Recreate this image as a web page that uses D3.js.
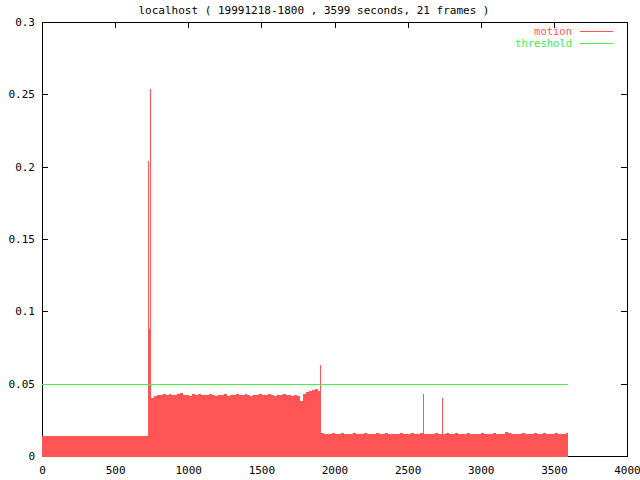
<!DOCTYPE html>
<head>
<meta charset="utf-8">
<style>
body { margin: 0; background: #fff; }
text { font-family: "DejaVu Sans Mono", monospace; font-size: 11px; }
.tick line { stroke: #000; }
</style>
</head>
<body>
<script src="https://d3js.org/d3.v7.min.js"></script>
<script>

// chart text
var title = "localhost ( 19991218-1800 , 3599 seconds, 21 frames )";
var seriesNames = ["motion", "threshold"];

// tick labels
var xTicks = [0, 500, 1000, 1500, 2000, 2500, 3000, 3500, 4000];
var yTicks = [0, 0.05, 0.1, 0.15, 0.2, 0.25, 0.3];

// motion level, one value per 20 s slice (slice k ends at 5 + 20k s)
var motion = [
  0.0135,0.0137,0.0136,0.0138,0.0136,0.0137,0.0139,0.0136,0.0137,0.0135,
  0.0138,0.0137,0.0136,0.0139,0.0137,0.0136,0.0138,0.0135,0.0137,0.0136,
  0.0138,0.0137,0.0139,0.0136,0.0137,0.0135,0.0138,0.0136,0.0137,0.0139,
  0.0136,0.0138,0.0137,0.0136,0.0138,0.0137,0.0136,
  0.0395,0.0402,0.0418,0.0425,0.0420,0.0428,0.0422,0.0431,0.0424,0.0419,
  0.0426,0.0433,0.0421,0.0425,0.0418,0.0427,0.0423,0.0430,0.0420,0.0424,
  0.0419,0.0428,0.0422,0.0417,0.0425,0.0421,0.0429,0.0418,0.0423,0.0420,
  0.0426,0.0419,0.0424,0.0432,0.0421,0.0418,0.0425,0.0420,0.0427,0.0422,
  0.0419,0.0426,0.0421,0.0417,0.0424,0.0420,0.0428,0.0419,0.0422,0.0418,
  0.0421,0.0416,0.0381,0.0428,0.0441,0.0452,0.0459,0.0460,0.0452,
  0.0156,0.0153,0.0155,0.0152,0.0157,0.0154,0.0153,0.0156,0.0152,0.0155,
  0.0154,0.0157,0.0153,0.0152,0.0155,0.0156,0.0153,0.0154,0.0152,0.0156,
  0.0155,0.0153,0.0157,0.0154,0.0152,0.0155,0.0153,0.0156,0.0154,0.0152,
  0.0155,0.0157,0.0153,0.0154,0.0156,0.0152,0.0155,0.0153,0.0154,0.0156,
  0.0153,0.0155,0.0152,0.0157,0.0154,0.0153,0.0156,0.0155,0.0152,0.0154,
  0.0157,0.0153,0.0155,0.0154,0.0152,0.0156,0.0153,0.0155,0.0154,0.0156,
  0.0152,0.0155,0.0153,0.0168,0.0156,0.0154,0.0153,0.0155,0.0152,0.0156,
  0.0154,0.0153,0.0155,0.0157,0.0153,0.0154,0.0156,0.0152,0.0155,0.0153,
  0.0156,0.0154,0.0155,0.0153,0.0156
];
var sliceStep = 20, sliceOffset = 5, duration = 3599;

// single-frame spikes
var spikeTime  = [724, 731, 738, 1903, 2607, 2737];
var spikeValue = [0.204, 0.088, 0.254, 0.063, 0.043, 0.040];

var threshold = 0.05;

var width = 640, height = 480;
var plotLeft = 42, plotRight = 627, plotTop = 22, plotBottom = 456;
var red = "#ff5555", green = "#44ee44";

var svg = d3.select("body").append("svg")
    .attr("width", width)
    .attr("height", height);

var x = d3.scaleLinear().domain([0, 4000]).range([plotLeft, plotRight]);
var y = d3.scaleLinear().domain([0, 0.3]).range([plotBottom, plotTop]);

// title
svg.append("text")
    .attr("x", 314)
    .attr("y", 14)
    .attr("text-anchor", "middle")
    .text(title);

// frame
svg.append("rect")
    .attr("x", plotLeft + 0.5).attr("y", plotTop + 0.5)
    .attr("width", plotRight - plotLeft).attr("height", plotBottom - plotTop)
    .attr("fill", "none").attr("stroke", "#000")
    .attr("shape-rendering", "crispEdges");

var yfmt = function(d) { return String(+d.toFixed(2)); };

// axes, ticks pointing inwards
svg.append("g")
    .attr("transform", "translate(" + plotLeft + ",0)")
    .call(d3.axisLeft(y).tickValues(yTicks).tickSize(-6).tickPadding(7).tickFormat(yfmt))
    .call(function(g) { g.select(".domain").remove(); });
svg.append("g")
    .attr("transform", "translate(" + plotRight + ",0)")
    .call(d3.axisRight(y).tickValues(yTicks).tickSize(-6).tickFormat(""))
    .call(function(g) { g.select(".domain").remove(); });
svg.append("g")
    .attr("transform", "translate(0," + plotBottom + ")")
    .call(d3.axisBottom(x).tickValues(xTicks).tickSize(-6).tickPadding(10).tickFormat(d3.format("d")))
    .call(function(g) { g.select(".domain").remove(); });
svg.append("g")
    .attr("transform", "translate(0," + plotTop + ")")
    .call(d3.axisTop(x).tickValues(xTicks).tickSize(-6).tickFormat(""))
    .call(function(g) { g.select(".domain").remove(); });
svg.selectAll("g text").attr("font-family", null).attr("font-size", null).attr("fill", "#000");
svg.selectAll(".tick line").attr("shape-rendering", "crispEdges");

// motion as stepped fill
var pts = motion.map(function(v, k) {
  return { t: Math.max(0, sliceOffset + sliceStep * (k - 1)), v: v };
});
pts.push({ t: duration, v: motion[motion.length - 1] });

var area = d3.area()
    .curve(d3.curveStepAfter)
    .x(function(d) { return x(d.t); })
    .y0(y(0) + 1)
    .y1(function(d) { return y(d.v); });

svg.append("path")
    .datum(pts)
    .attr("fill", red)
    .attr("shape-rendering", "crispEdges")
    .attr("d", area);

// spikes
svg.selectAll(".spike")
    .data(spikeTime)
  .enter().append("line")
    .attr("class", "spike")
    .attr("x1", function(d) { return Math.round(x(d)) + 0.5; })
    .attr("x2", function(d) { return Math.round(x(d)) + 0.5; })
    .attr("y1", y(0))
    .attr("y2", function(d, i) { return y(spikeValue[i]); })
    .attr("stroke", red)
    .attr("shape-rendering", "crispEdges");

// threshold
svg.append("line")
    .attr("x1", x(0)).attr("x2", x(duration))
    .attr("y1", Math.round(y(threshold)) + 0.5).attr("y2", Math.round(y(threshold)) + 0.5)
    .attr("stroke", green)
    .attr("shape-rendering", "crispEdges");

// legend
var legend = svg.append("g");
[red, green].forEach(function(c, i) {
  var ly = 31 + i * 12;
  legend.append("text")
      .attr("x", 572).attr("y", ly + 4)
      .attr("text-anchor", "end")
      .attr("fill", c)
      .style("font-size", "10.5px")
      .text(seriesNames[i]);
  legend.append("line")
      .attr("x1", 580).attr("x2", 613)
      .attr("y1", ly + 0.5).attr("y2", ly + 0.5)
      .attr("stroke", c)
      .attr("shape-rendering", "crispEdges");
});

</script>
</body>
